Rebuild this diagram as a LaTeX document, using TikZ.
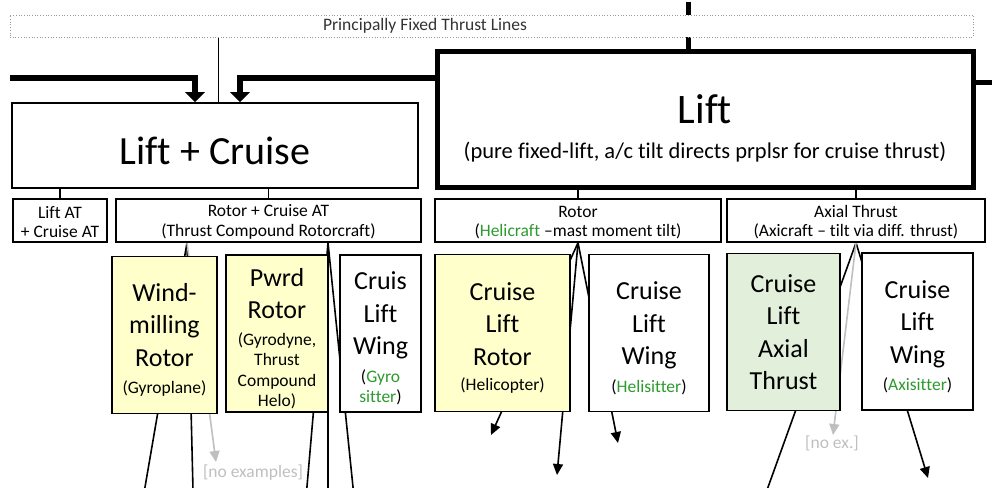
\documentclass[tikz,border=0pt]{standalone}
\usepackage{fontspec}
\setmainfont{Carlito}[Ligatures=NoCommon]
\usetikzlibrary{arrows.meta,backgrounds}

\definecolor{Crotoryellow}{HTML}{FFFFCC}
\definecolor{Caxialgreen}{HTML}{E2EFDA}
\definecolor{Ccraftgreen}{HTML}{2E9A2E}
\definecolor{Cnoexgray}{HTML}{BFBFBF}
\definecolor{Cdotgray}{HTML}{9A9A9A}

\newcommand{\smtxt}[1]{{\fontsize{17.5}{21}\selectfont #1}}
\newcommand{\craft}[1]{\textcolor{Ccraftgreen}{#1}}
\newcommand{\lowstrut}[1]{\rule{0pt}{#1pt}}

\begin{document}
\begin{tikzpicture}[x=1pt,y=-1pt,
	box/.style={draw,line width=1.6pt,inner sep=0pt,align=center},
	catbox/.style={box,fill=white,minimum height=157pt,font=\fontsize{26}{32.5}\selectfont},
	subbox/.style={box,minimum height=43pt,font=\fontsize{17.5}{19.5}\selectfont},
	link/.style={line width=1.6pt},
	tip/.style={link,-{Triangle[width=10pt,length=11pt]}},
	noex/.style={Cnoexgray,line width=1.6pt,-{Triangle[width=10pt,length=11pt]}},
	feed/.style={line width=6pt,-{Triangle[width=19pt,length=10pt]}},
	trunk/.style={line width=5pt}]
	\useasboundingbox (0,0) rectangle (992,487);

	\node[draw=Cdotgray,line width=0.9pt,dash pattern=on 0.9pt off 1.8pt,fill=white,
		minimum width=963pt,minimum height=22pt,inner sep=0pt] (fixed) at (491.5,26) {};
	\node[font=\fontsize{17.5}{20}\selectfont,text=black!80] (fixedlbl) at (425,26) {Principally Fixed Thrust Lines};

	\node[box,minimum width=406pt,minimum height=85pt,font=\fontsize{40}{48}\selectfont]
		(liftcruise) at (215,145.5) {\lowstrut{39}Lift + Cruise};
	\node[box,line width=5pt,minimum width=536pt,minimum height=135pt,font=\fontsize{22.5}{35}\selectfont]
		(lift) at (705,119.5) {{\fontsize{42}{44}\selectfont\lowstrut{46}Lift}\\(pure fixed-lift, a/c tilt directs prplsr for cruise thrust)};

	\node[subbox,minimum width=94pt] (liftat) at (60,220.5) {\lowstrut{15}Lift AT\\+ Cruise AT};
	\node[subbox,minimum width=305pt] (rotorcruise) at (268.5,220.5) {\lowstrut{15}Rotor + Cruise AT\\(Thrust Compound Rotorcraft)};
	\node[subbox,minimum width=286pt] (rotor) at (578,220.5) {\lowstrut{15}Rotor\\(\craft{Helicraft} --mast moment tilt)};
	\node[subbox,minimum width=258pt] (axial) at (856,220.5) {\lowstrut{15}Axial Thrust\\(Axicraft -- tilt via diff. thrust)};

	\node[catbox,fill=Crotoryellow,minimum width=105pt] (windmill) at (164.5,335)
		{\lowstrut{28}Wind-\\milling\\Rotor\\[-5pt]\smtxt{(Gyroplane)}};
	\node[catbox,fill=Crotoryellow,minimum width=102pt] (pwrdrotor) at (277,333.5)
		{\lowstrut{28}Pwrd\\Rotor\\[-6pt]\smtxt{(Gyrodyne,}\\[-12pt]\smtxt{Thrust}\\[-12pt]\smtxt{Compound}\\[-12pt]\smtxt{Helo)}};
	\node[catbox,minimum width=81pt] (gyrositter) at (380.5,333.5)
		{\lowstrut{28}Cruis\\Lift\\Wing\\[-5pt]\smtxt{(\craft{Gyro}}\\[-12pt]\smtxt{\craft{sitter})}};
	\node[catbox,fill=Crotoryellow,minimum width=135pt] (helicopter) at (502.5,333)
		{\lowstrut{28}Cruise\\Lift\\Rotor\\[-7pt]\smtxt{(Helicopter)}};
	\node[catbox,minimum width=120pt] (helisitter) at (649,333)
		{\lowstrut{28}Cruise\\Lift\\Wing\\[-5pt]\smtxt{(\craft{Helisitter})}};
	\node[catbox,fill=Caxialgreen,minimum width=113pt] (axialthrust) at (783.5,332)
		{Cruise\\Lift\\Axial\\Thrust};
	\node[catbox,minimum width=111pt] (axisitter) at (917.5,331.5)
		{\lowstrut{28}Cruise\\Lift\\Wing\\[-5pt]\smtxt{(\craft{Axisitter})}};

	\node[font=\fontsize{17.5}{20}\selectfont,text=Cnoexgray] (noexA) at (253,473) {[no examples]};
	\node[font=\fontsize{17.5}{20}\selectfont,text=Cnoexgray] (noexB) at (832,443) {[no ex.]};

	\coordinate (inflow) at (10,78);
	\coordinate (intop) at (688,2);
	\coordinate (outright) at (995,82);
	\coordinate (rcA) at ([xshift=-81.5pt]rotorcruise.south);
	\coordinate (rcB) at ([xshift=59.5pt]rotorcruise.south);

	\begin{scope}[on background layer]
		\draw[trunk] (intop) -- (intop |- lift.north);
		\draw[trunk] (lift.east |- outright) -- (outright);
		\draw[feed] (inflow) -| ([xshift=-20pt]liftcruise.north);
		\draw[feed] (lift.west |- inflow) -| ([xshift=25pt]liftcruise.north);
		\draw[line width=1pt] ([xshift=3pt]liftcruise.north) -- ([xshift=3pt]liftcruise.north |- fixed.south);

		\draw[link] (liftat.north) -- (liftat.north |- liftcruise.south);
		\draw[link] (rotorcruise.north) -- (rotorcruise.north |- liftcruise.south);
		\draw[link] (rotor.north) -- (rotor.north |- lift.south);
		\draw[link] (axial.north) -- (axial.north |- lift.south);

		\draw[link] (rcA) -- (144.5,490);
		\draw[link] (rcA) -- (193,490);
		\draw[noex] (rcA) -- (216,462);
		\draw[link] (rcB) -- (306.7,490);
		\draw[link] (rcB) -- (328,490);
		\draw[link] (rcB) -- (353.3,490);

		\draw[tip] (rotor.south) -- (491,435);
		\draw[tip] (rotor.south) -- (557,475);
		\draw[tip] (rotor.south) -- (618,443);

		\draw[link] (axial.south) -- (767,490);
		\draw[tip] (axial.south) -- (928,478);
		\draw[noex] (axial.south) -- (833,435);
	\end{scope}
\end{tikzpicture}
\end{document}
